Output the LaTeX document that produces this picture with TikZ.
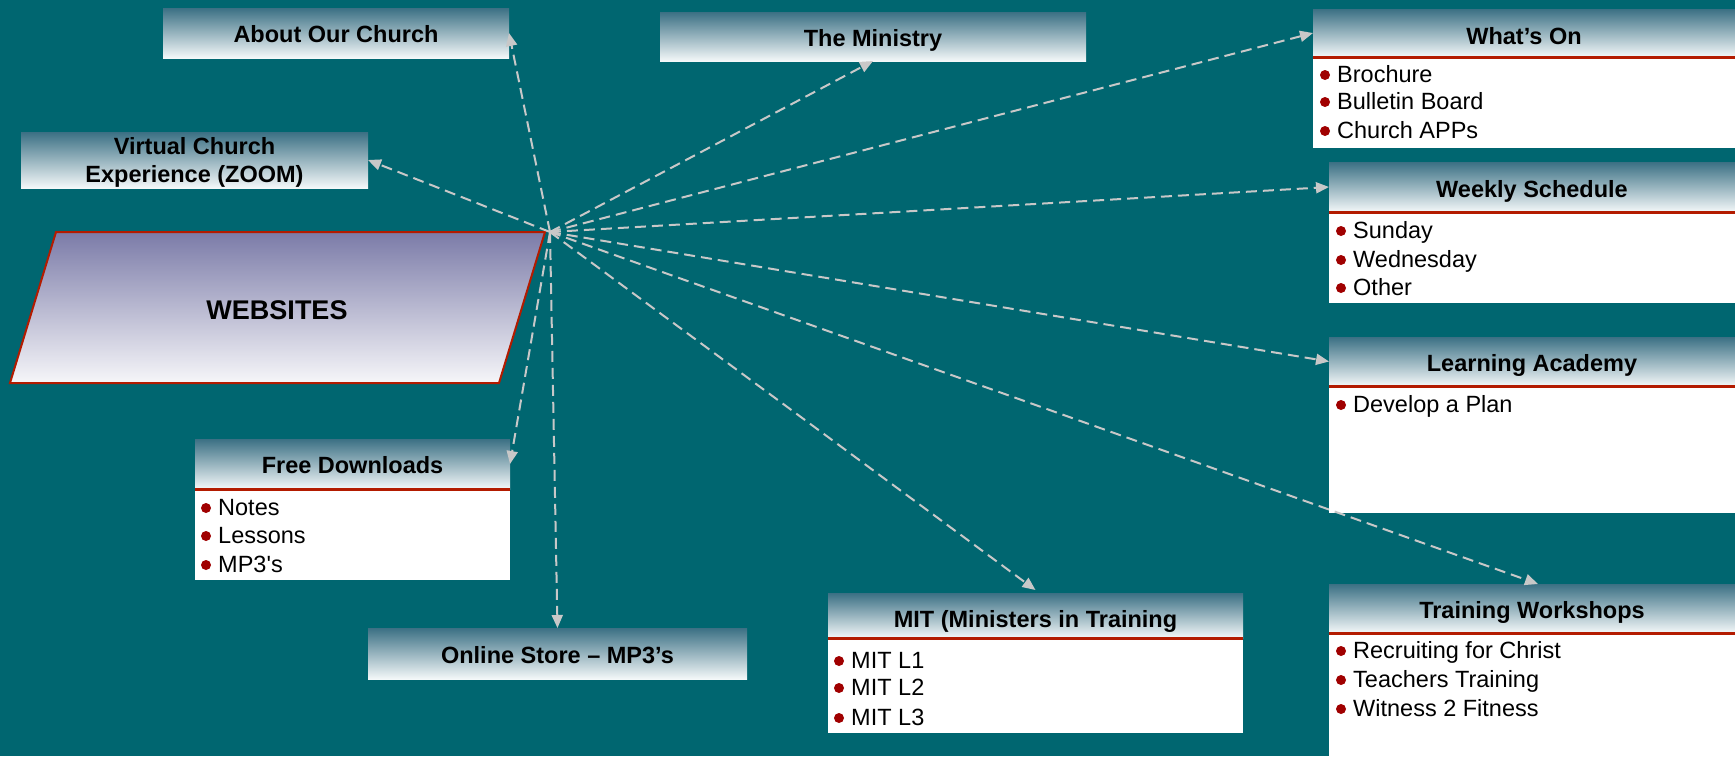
\documentclass[tikz,border=0pt]{standalone}
\usepackage{fontspec}
\setmainfont{Liberation Sans}
\usetikzlibrary{arrows.meta}
\definecolor{bgteal}{HTML}{006670}
\definecolor{hdtop}{HTML}{3B7084}
\definecolor{hdbot}{HTML}{F4F8F9}
\definecolor{pgtop}{HTML}{7B7BA8}
\definecolor{pgbot}{HTML}{F6F6F9}
\definecolor{redline}{HTML}{B31B00}
\definecolor{bulred}{HTML}{A00000}
\definecolor{conngray}{HTML}{C8C8C8}
\tikzset{
  hdr/.style={anchor=north west, inner sep=0pt, outer sep=0pt, top color=hdtop, bottom color=hdbot,
    font=\bfseries\fontsize{23.5}{28}\selectfont, align=center, text=black},
  bodybox/.style={anchor=north west, fill=white, inner sep=0pt, outer sep=0pt},
  itemtxt/.style={anchor=base west, inner sep=0pt, font=\fontsize{23.5}{28}\selectfont, text=black},
  connector/.style={draw=conngray, line width=2pt, dash pattern=on 11pt off 6pt,
    -{Triangle[length=13pt,width=11pt]}},
  sepline/.style={draw=redline, line width=3pt},
  pgram/.style={top color=pgtop, bottom color=pgbot},
  pgborder/.style={draw=redline, line width=2pt, line join=miter},
}
\newcommand\bitem[4]{%
  \fill[bulred] (#2-12,#3-7) circle (5);
  \node[itemtxt] (#1) at (#2,#3) {#4};}
\begin{document}
\begin{tikzpicture}[x=1pt,y=-1pt]
\useasboundingbox (0,0) rectangle (1735,756);
\fill[bgteal] (0,0) rectangle (1735,756);

% WEBSITES parallelogram
\shade[pgram] (56,232) -- (545,232) -- (499,383) -- (10,383) -- cycle;
\draw[pgborder] (56,232) -- (545,232) -- (499,383) -- (10,383) -- cycle;
\node[font=\bfseries\fontsize{27}{32}\selectfont, inner sep=0pt] (websites) at (277,310) {WEBSITES};
\coordinate (hub) at (550,232);

% simple boxes
\node[hdr, minimum width=346pt, minimum height=50pt, text height=34.5pt, text depth=15.5pt] (about) at (163,8) {About Our Church};
\node[hdr, minimum width=347pt, minimum height=56pt, inner ysep=0pt] (virt) at (21,132) {\rule{0pt}{22pt}Virtual Church\\Experience (ZOOM)};
\node[hdr, minimum width=426pt, minimum height=49pt, text height=34.5pt, text depth=14.5pt] (ministry) at (660,12) {The Ministry};
\node[hdr, minimum width=379pt, minimum height=51pt, text height=35.5pt, text depth=15.5pt] (online) at (368,628) {Online Store – MP3’s};

% What's On
\node[bodybox, minimum width=422pt, minimum height=91pt] (whatsonb) at (1313,57) {};
\node[hdr, minimum width=422pt, minimum height=48pt, text height=35.5pt, text depth=12.5pt] (whatson) at (1313,9) {What’s On};
\draw[sepline] (whatson.south west) -- (whatson.south east);
\bitem{wo1}{1337}{82}{Brochure}
\bitem{wo2}{1337}{109}{Bulletin Board}
\bitem{wo3}{1337}{138}{Church APPs}

% Weekly Schedule
\node[bodybox, minimum width=406pt, minimum height=91pt] (weeklyb) at (1329,212) {};
\node[hdr, minimum width=406pt, minimum height=50pt, text height=35.5pt, text depth=14.5pt] (weekly) at (1329,162) {Weekly Schedule};
\draw[sepline] (weekly.south west) -- (weekly.south east);
\bitem{ws1}{1353}{238}{Sunday}
\bitem{ws2}{1353}{267}{Wednesday}
\bitem{ws3}{1353}{295}{Other}

% Learning Academy
\node[bodybox, minimum width=406pt, minimum height=127pt] (learnb) at (1329,386) {};
\node[hdr, minimum width=406pt, minimum height=49pt, text height=34.5pt, text depth=14.5pt] (learn) at (1329,337) {Learning Academy};
\draw[sepline] (learn.south west) -- (learn.south east);
\bitem{la1}{1353}{412}{Develop a Plan}

% Free Downloads
\node[bodybox, minimum width=315pt, minimum height=91pt] (freeb) at (195,489) {};
\node[hdr, minimum width=315pt, minimum height=50pt, text height=34pt, text depth=16pt] (free) at (195,439) {Free Downloads};
\draw[sepline] (free.south west) -- (free.south east);
\bitem{fd1}{218}{515}{Notes}
\bitem{fd2}{218}{543}{Lessons}
\bitem{fd3}{218}{572}{MP3\textquotesingle s}

% MIT
\node[bodybox, minimum width=415pt, minimum height=95pt] (mitb) at (828,638) {};
\node[hdr, minimum width=415pt, minimum height=45pt, text height=34pt, text depth=11pt] (mit) at (828,593) {MIT (Ministers in Training};
\draw[sepline] (mit.south west) -- (mit.south east);
\bitem{mi1}{851}{668}{MIT L1}
\bitem{mi2}{851}{695}{MIT L2}
\bitem{mi3}{851}{725}{MIT L3}

% Training Workshops
\node[bodybox, minimum width=406pt, minimum height=123pt] (trainb) at (1329,633) {};
\node[hdr, minimum width=406pt, minimum height=49pt, text height=34pt, text depth=15pt] (train) at (1329,584) {Training Workshops};
\draw[sepline] (train.south west) -- (train.south east);
\bitem{tw1}{1353}{658}{Recruiting for Christ}
\bitem{tw2}{1353}{687}{Teachers Training}
\bitem{tw3}{1353}{716}{Witness 2 Fitness}

% connectors
\draw[connector] (hub) -- (about.east);
\draw[connector] (hub) -- (virt.east);
\draw[connector] (hub) -- (ministry.south);
\draw[connector] (hub) -- (whatson.west);
\draw[connector] (hub) -- (weekly.west);
\draw[connector] (hub) -- (learn.west);
\draw[connector] (hub) -- ([xshift=6pt]train.north);
\draw[connector] (hub) -- ([yshift=3pt]mit.north);
\draw[connector] (hub) -- (online.north);
\draw[connector] (hub) -- (free.east);
\end{tikzpicture}
\end{document}
